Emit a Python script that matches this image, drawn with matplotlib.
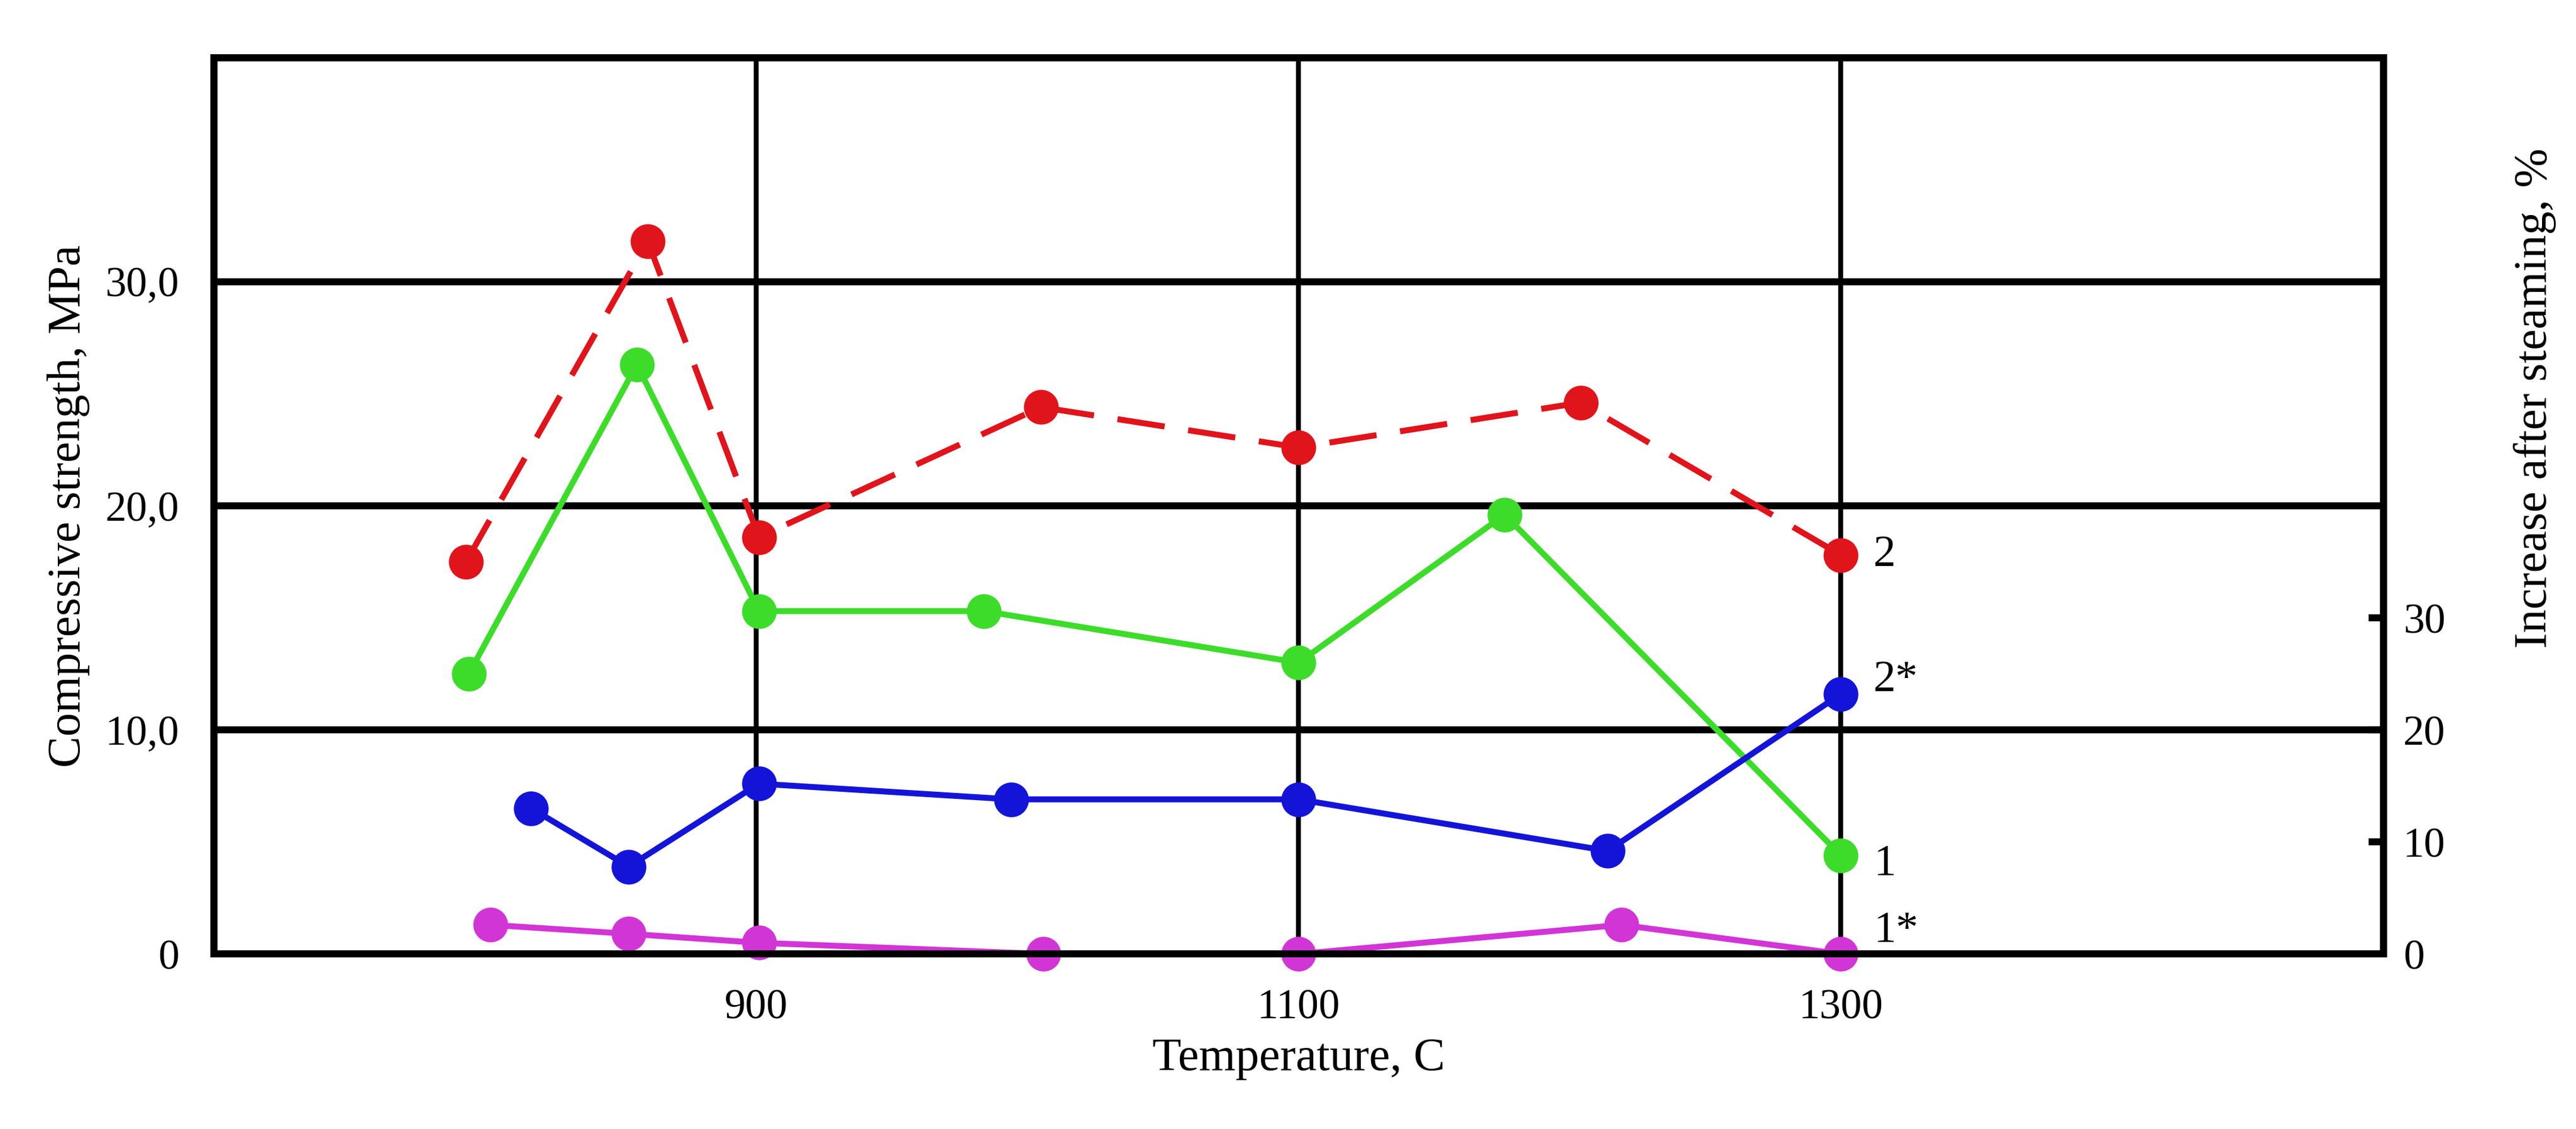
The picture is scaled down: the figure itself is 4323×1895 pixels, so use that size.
import numpy as np
import matplotlib.pyplot as plt

plt.rcParams['font.family'] = ['Liberation Serif', 'DejaVu Serif']

# curve 2 (red, dashed)
t2 = [793, 860, 901, 1005, 1100, 1204, 1300]
s2 = [17.5, 31.8, 18.6, 24.4, 22.6, 24.6, 17.8]
# curve 1 (green)
t1 = [794, 856, 901, 984, 1100, 1176, 1300]
s1 = [12.5, 26.3, 15.3, 15.3, 13.0, 19.6, 4.4]
# curve 2* (blue)
t2s = [817, 853, 901, 994, 1100, 1214, 1300]
s2s = [6.5, 3.9, 7.6, 6.9, 6.9, 4.6, 11.6]
# curve 1* (magenta)
t1s = [802, 853, 901, 1006, 1100, 1219, 1300]
s1s = [1.3, 0.9, 0.5, 0.0, 0.0, 1.3, 0.0]

fig = plt.figure(figsize=(14.413, 6.317), dpi=300)
ax = fig.add_axes([0.083, 0.155, 0.842, 0.794])

for v in [900, 1100, 1300]:
    ax.axvline(v, color='black', lw=2.0, zorder=1)
for h in [10, 20, 30]:
    ax.axhline(h, color='black', lw=2.8, zorder=1)

ms = 13
kw = dict(lw=2.4, marker='o', ms=ms, zorder=3, clip_on=False)
ax.plot(t2, s2, color='#e0141b', dashes=(8, 4), **kw)
ax.plot(t1, s1, color='#3ddc2a', **kw)
ax.plot(t2s, s2s, color='#1414d8', **kw)
ax.plot(t1s, s1s, color='#d235d6', **kw)

for lab, y in [('2', s2[-1]), ('2*', s2s[-1] + 0.6), ('1', s1[-1] - 0.4), ('1*', 1.0)]:
    ax.text(1312, y, lab, fontsize=18, va='center', ha='left')

ax.set_xlim(700, 1500)
ax.set_ylim(0, 40)
ax.set_xticks([900, 1100, 1300])
ax.set_yticks([0, 10, 20, 30])
ax.set_yticklabels(['0', '10,0', '20,0', '30,0'])
ax.tick_params(axis='both', length=0, labelsize=17, pad=14)
ax.set_xlabel('Temperature, C', fontsize=19, labelpad=4)
ax.set_ylabel('Compressive strength, MPa', fontsize=19, labelpad=6)
for sp in ax.spines.values():
    sp.set_linewidth(2.8)

ax2 = ax.twinx()
ax2.set_ylim(0, 80)
ax2.set_yticks([0, 10, 20, 30])
ax2.tick_params(axis='y', direction='in', length=6, width=2.8, labelsize=17, pad=8)
ax2.set_ylabel('Increase after steaming, %', fontsize=19)
ax2.yaxis.set_label_coords(1.06, 0.62)
for sp in ax2.spines.values():
    sp.set_linewidth(2.8)

fig.savefig('out.png')
